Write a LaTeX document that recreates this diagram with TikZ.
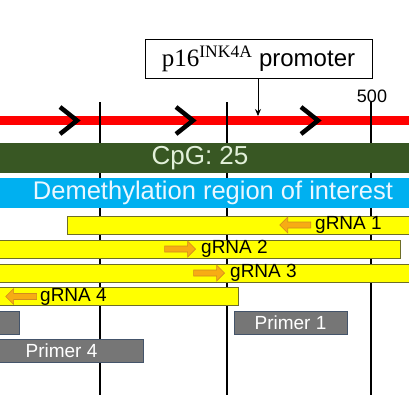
\documentclass[tikz,border=0pt]{standalone}
\usepackage{fontspec}
\setsansfont{Liberation Sans}
\newfontfamily\promoterserif{Liberation Serif}
\definecolor{cpgGreen}{RGB}{56,87,35}
\definecolor{cpgText}{RGB}{226,240,217}
\definecolor{regionBlue}{RGB}{0,176,240}
\definecolor{regionText}{RGB}{235,247,255}
\definecolor{guideYellow}{RGB}{255,255,0}
\definecolor{guideBorder}{RGB}{110,110,40}
\definecolor{guideArrow}{RGB}{247,172,20}
\definecolor{guideArrowLine}{RGB}{210,140,30}
\definecolor{primerGray}{RGB}{118,118,118}
\definecolor{primerBorder}{RGB}{68,84,106}
\usetikzlibrary{shapes.arrows, arrows.meta, positioning}

\begin{document}
\begin{tikzpicture}[x=1pt, y=-1pt, every node/.style={font=\sffamily},
    bar/.style={anchor=north west, inner sep=0pt, outer sep=0pt},
    guidebar/.style={bar, draw=guideBorder, fill=guideYellow, line width=0.8pt, minimum height=18pt},
    guidetxt/.style={anchor=west, inner sep=0pt, font=\sffamily\fontsize{19}{20}\selectfont},
    guidearrow/.style={single arrow, draw=guideArrowLine, fill=guideArrow, line width=0.6pt,
      minimum height=31pt, minimum width=16pt, single arrow head extend=3pt, inner sep=1.5pt},
    primerbox/.style={bar, draw=primerBorder, fill=primerGray, line width=0.8pt, minimum height=23pt,
      text=white, font=\sffamily\fontsize{19}{20}\selectfont}]
    \clip (0,0) rectangle (409,408);

    % red sequence line with direction marks
    \draw[red, line width=9pt] (-5,120) -- (414,120);
    \foreach \cx in {77,193,318}
        \draw[line width=4.5pt, miter limit=4] (\cx-17,107) -- (\cx,120.5) -- (\cx-17,134);

    % scale ticks
    \foreach \gx in {100,227,371}
        \draw[line width=1.2pt] (\gx,102) -- (\gx,395);
    \node[font=\sffamily\fontsize{18}{20}\selectfont] (pos500) at (372,96) {500};

    % promoter label
    \node[draw, fill=white, line width=0.8pt, minimum width=227pt, minimum height=39pt, inner sep=0pt]
        (promoter) at (258.5,58.5) {{\promoterserif\fontsize{25}{27}\selectfont p16\textsuperscript{INK4A}}\fontsize{24}{26}\selectfont\ promoter};
    \coordinate (tss) at (258,116);
    \draw[-{Stealth[length=7pt, width=6pt]}, line width=0.8pt] (promoter.south -| tss) -- (tss);

    % CpG island and target region
    \node[bar, fill=cpgGreen, minimum width=428pt, minimum height=30pt, text=cpgText,
        font=\sffamily\fontsize{26}{28}\selectfont] (cpg) at (-14,143) {CpG: 25};
    \node[bar, fill=regionBlue, minimum width=440pt, minimum height=30pt, text=regionText,
        font=\sffamily\fontsize{25.5}{27}\selectfont] (region) at (-7,178) {Demethylation region of interest};

    % guide RNAs
    \node[guidebar, minimum width=360pt] (g1bar) at (67,216) {};
    \node[guidebar, minimum width=406pt] (g2bar) at (-6,240) {};
    \node[guidebar, minimum width=420pt] (g3bar) at (-6,264) {};
    \node[guidebar, minimum width=244pt] (g4bar) at (-6,287.5) {};

    \node[guidetxt] (g1txt) at (315,225) {gRNA 1};
    \node[guidetxt] (g2txt) at (201,249) {gRNA 2};
    \node[guidetxt] (g3txt) at (230,273) {gRNA 3};
    \node[guidetxt] (g4txt) at (40,296.5) {gRNA 4};

    \node[guidearrow, shape border rotate=180, left=4pt of g1txt] (g1arr) {};
    \node[guidearrow, left=5pt of g2txt] (g2arr) {};
    \node[guidearrow, left=5pt of g3txt] (g3arr) {};
    \node[guidearrow, shape border rotate=180, left=3pt of g4txt] (g4arr) {};

    % primers
    \node[primerbox, minimum width=25pt] (primerL) at (-6,311) {};
    \node[primerbox, minimum width=113pt] (primer1) at (234,311) {Primer 1};
    \node[primerbox, minimum width=163pt] (primer4) at (-20,339) {Primer 4};
\end{tikzpicture}
\end{document}
